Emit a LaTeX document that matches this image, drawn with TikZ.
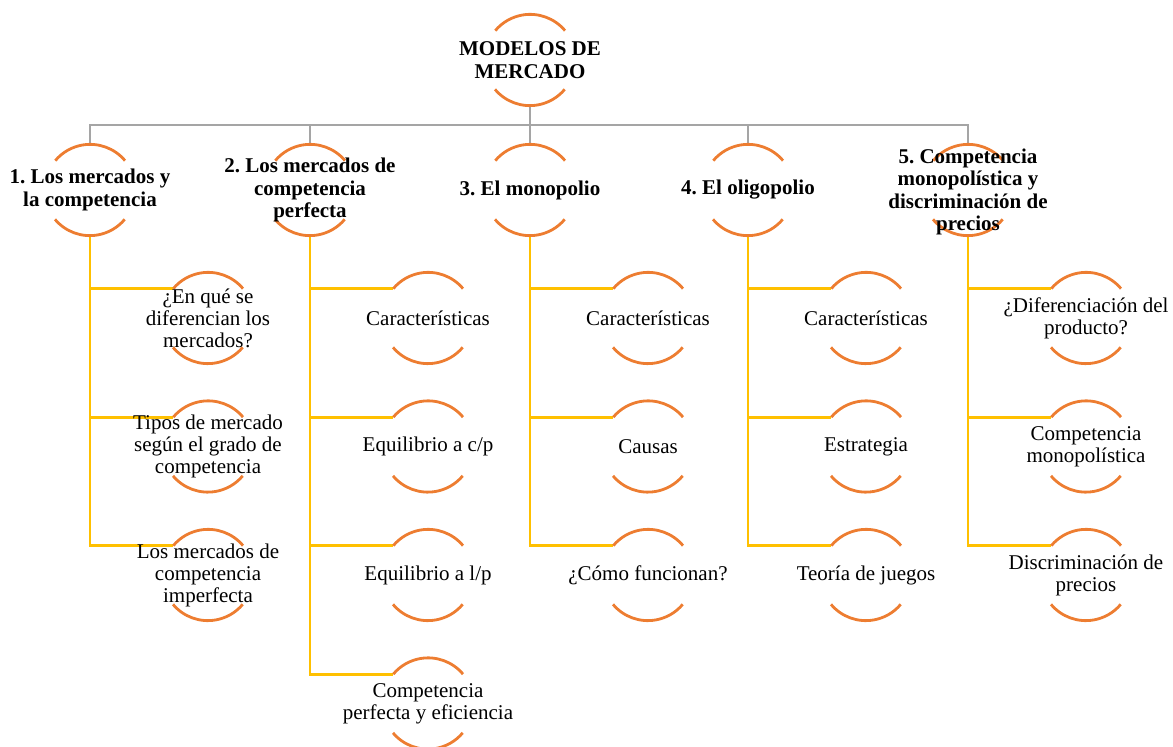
\documentclass[tikz,border=0pt]{standalone}
\usepackage{fontspec}
\setmainfont{Liberation Serif}
\newfontfamily\tnr{Liberation Serif}
\frenchspacing
\definecolor{arcor}{HTML}{ED7D31}
\definecolor{conyel}{HTML}{FFC000}
\definecolor{congray}{HTML}{A5A5A5}
\begin{document}
\begin{tikzpicture}[x=1pt,y=1pt,
 ring/.style={circle,minimum size=91pt,inner sep=0pt,draw=none},
 arcst/.style={draw=arcor,line width=2.8pt},
 lone/.style={font=\tnr\bfseries\fontsize{21}{22.5}\selectfont,align=center,inner sep=0pt},
 ltwo/.style={font=\tnr\fontsize{21}{22}\selectfont,align=center,inner sep=0pt},
 gline/.style={draw=congray,line width=2.8pt},
 yline/.style={draw=conyel,line width=2.8pt}]
\useasboundingbox (0,0) rectangle (1173,747);
% rings
\node[ring] (top) at (530,687) {};
\node[ring] (n1) at (90,557) {};
\node[ring] (n2) at (310,557) {};
\node[ring] (n3) at (530,557) {};
\node[ring] (n4) at (748,557) {};
\node[ring] (n5) at (968,557) {};
\node[ring] (c11) at (208,429) {};
\node[ring] (c12) at (208,300.5) {};
\node[ring] (c13) at (208,172) {};
\node[ring] (c21) at (428,429) {};
\node[ring] (c22) at (428,300.5) {};
\node[ring] (c23) at (428,172) {};
\node[ring] (c24) at (428,43.5) {};
\node[ring] (c31) at (648,429) {};
\node[ring] (c32) at (648,300.5) {};
\node[ring] (c33) at (648,172) {};
\node[ring] (c41) at (866,429) {};
\node[ring] (c42) at (866,300.5) {};
\node[ring] (c43) at (866,172) {};
\node[ring] (c51) at (1086,429) {};
\node[ring] (c52) at (1086,300.5) {};
\node[ring] (c53) at (1086,172) {};
% connectors
\coordinate (hub) at (530,622);
\draw[gline] (top.south) -- (hub);
\foreach \n in {n1,n2,n3,n4,n5} {\draw[gline] (\n.north) |- (hub);}
\foreach \c in {c11,c12,c13} {\draw[yline] (n1.south) |- (\c.140);}
\foreach \c in {c21,c22,c23,c24} {\draw[yline] (n2.south) |- (\c.140);}
\foreach \c in {c31,c32,c33} {\draw[yline] (n3.south) |- (\c.140);}
\foreach \c in {c41,c42,c43} {\draw[yline] (n4.south) |- (\c.140);}
\foreach \c in {c51,c52,c53} {\draw[yline] (n5.south) |- (\c.140);}
% arcs
\foreach \n in {top,n1,n2,n3,n4,n5,c11,c12,c13,c21,c22,c23,c24,c31,c32,c33,c41,c42,c43,c51,c52,c53} {
 \draw[arcst] (\n.40) arc[start angle=40,end angle=140,radius=45.5pt];
 \draw[arcst] (\n.220) arc[start angle=220,end angle=320,radius=45.5pt];
}
% texts
\node[lone] (ttop) at (top) {MODELOS DE\\MERCADO};
\node[lone] (t1) at (n1) {1. Los mercados y\\la competencia};
\node[lone] (t2) at (n2) {2. Los mercados de\\competencia\\perfecta};
\node[lone] (t3) at (n3) {3. El monopolio};
\node[lone] (t4) at (n4) {4. El oligopolio};
\node[lone] (t5) at ([yshift=-2pt]n5) {5. Competencia\\monopolística y\\discriminación de\\precios};
\node[ltwo] (s11) at (c11) {¿En qué se\\diferencian los\\mercados?};
\node[ltwo] (s12) at (c12) {Tipos de mercado\\según el grado de\\competencia};
\node[ltwo] (s13) at (c13) {Los mercados de\\competencia\\imperfecta};
\node[ltwo] (s21) at (c21) {Características};
\node[ltwo] (s22) at (c22) {Equilibrio a c/p};
\node[ltwo] (s23) at (c23) {Equilibrio a l/p};
\node[ltwo] (s24) at (c24) {Competencia\\perfecta y eficiencia};
\node[ltwo] (s31) at (c31) {Características};
\node[ltwo] (s32) at (c32) {Causas};
\node[ltwo] (s33) at (c33) {¿Cómo funcionan?};
\node[ltwo] (s41) at (c41) {Características};
\node[ltwo] (s42) at (c42) {Estrategia};
\node[ltwo] (s43) at (c43) {Teoría de juegos};
\node[ltwo] (s51) at (c51) {¿Diferenciación del\\producto?};
\node[ltwo] (s52) at (c52) {Competencia\\monopolística};
\node[ltwo] (s53) at (c53) {Discriminación de\\precios};
\end{tikzpicture}
\end{document}
